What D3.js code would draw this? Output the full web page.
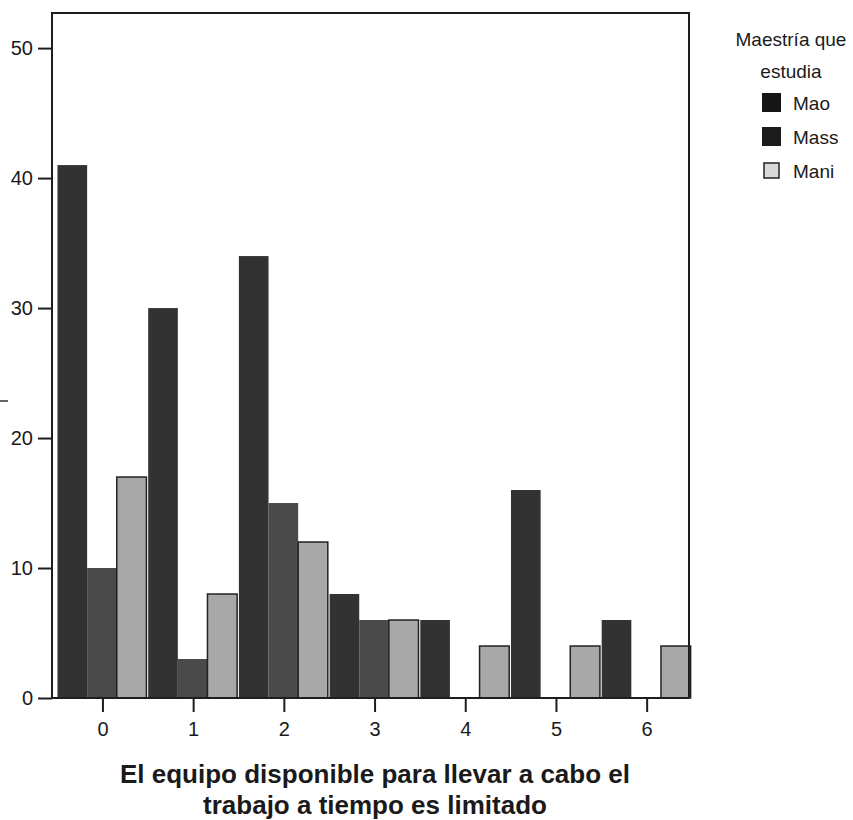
<!DOCTYPE html>
<html>
<head>
<meta charset="utf-8">
<script src="https://cdn.jsdelivr.net/npm/d3@7"></script>
<style>
  body { margin: 0; background: #fff; }
  text { font-family: "Liberation Sans", Arial, sans-serif; fill: #1a1a1a; }
</style>
</head>
<body>
<div id="chart"></div>
<script>
const categories = ["0", "1", "2", "3", "4", "5", "6"]
const seriesNames = ["Mao", "Mass", "Mani"]
const maoValues = [41, 30, 34, 8, 6, 16, 6]
const massValues = [10, 3, 15, 6, 0, 0, 0]
const maniValues = [17, 8, 12, 6, 4, 4, 4]
const yTicks = [0, 10, 20, 30, 40, 50]
const legendTitle = ["Maestría que", "estudia"]
const xTitle = ["El equipo disponible para llevar a cabo el", "trabajo a tiempo es limitado"]

const colors = { Mao: "#323232", Mass: "#4a4a4a", Mani: "#a8a8a8" }
const legendColors = { Mao: "#161616", Mass: "#1c1c1c", Mani: "#d8d8d8" }

const W = 853, H = 820
const PLOT = { LEFT: 52, TOP: 13, RIGHT: 689, BOTTOM: 698 }

const svg = d3.select("#chart")
              .append("svg")
              .attr("width", W)
              .attr("height", H)

const rows = categories.map((c, i) => ({
  cat: c,
  values: [
    { key: "Mao", value: maoValues[i] },
    { key: "Mass", value: massValues[i] },
    { key: "Mani", value: maniValues[i] },
  ]
}))

const x0 = d3.scaleBand()
             .domain(categories)
             .range([57.6, 692.5])
const x1 = d3.scaleBand()
             .domain(seriesNames)
             .range([0, x0.bandwidth()])
             .paddingOuter(0.03)
const y = d3.scaleLinear()
            .domain([0, 52.7])
            .range([PLOT.BOTTOM, PLOT.TOP])

// bars
const groups = svg.append("g")
                  .selectAll("g")
                  .data(rows)
                  .join("g")
                  .attr("transform", d => `translate(${x0(d.cat) - 1}, 0)`)

groups.selectAll("rect")
      .data(d => d.values)
      .join("rect")
      .attr("x", d => x1(d.key))
      .attr("y", d => y(d.value))
      .attr("width", x1.bandwidth())
      .attr("height", d => y(0) - y(d.value))
      .attr("fill", d => colors[d.key])
      .attr("stroke", d => d.key === "Mani" ? "#222" : "none")
      .attr("stroke-width", 1.5)

// frame
svg.append("path")
   .attr("d", `M${PLOT.LEFT},${PLOT.BOTTOM}V${PLOT.TOP}H${PLOT.RIGHT}V${PLOT.BOTTOM}`)
   .attr("fill", "none")
   .attr("stroke", "#1e1e1e")
   .attr("stroke-width", 2)

// y axis
const yAxis = svg.append("g")
                 .attr("transform", `translate(${PLOT.LEFT}, 0)`)
                 .call(d3.axisLeft(y).tickValues(yTicks).tickSize(14).tickPadding(5).tickFormat(d3.format("d")))
yAxis.select(".domain").remove()
yAxis.selectAll("line").attr("stroke", "#1e1e1e").attr("stroke-width", 2)
yAxis.selectAll("text")
     .attr("font-size", 20)
     .attr("font-family", "Liberation Sans, Arial, sans-serif")
     .attr("fill", "#1a1a1a")

// x axis
const xAxis = svg.append("g")
                 .attr("transform", `translate(0, ${PLOT.BOTTOM})`)
                 .call(d3.axisBottom(x0).tickSize(14).tickPadding(10).tickSizeOuter(0))
xAxis.select(".domain")
     .attr("d", `M${PLOT.LEFT},0H${PLOT.RIGHT}`)
     .attr("stroke", "#1e1e1e")
     .attr("stroke-width", 2)
xAxis.selectAll("line").attr("stroke", "#1e1e1e").attr("stroke-width", 2)
xAxis.selectAll("text")
     .attr("font-size", 20)
     .attr("font-family", "Liberation Sans, Arial, sans-serif")
     .attr("fill", "#1a1a1a")

// x title
svg.append("text")
   .attr("x", 375)
   .attr("y", 783)
   .attr("text-anchor", "middle")
   .attr("font-size", 26)
   .attr("font-weight", "bold")
   .selectAll("tspan")
   .data(xTitle)
   .join("tspan")
   .attr("x", 375)
   .attr("dy", (d, i) => i === 0 ? 0 : 31)
   .text(d => d)

// stray axis-title fragment at the left edge
svg.append("line")
   .attr("x1", 0).attr("x2", 8)
   .attr("y1", 401).attr("y2", 401)
   .attr("stroke", "#333")
   .attr("stroke-width", 1.5)

// legend
const legend = svg.append("g")
legend.append("text")
      .attr("text-anchor", "middle")
      .attr("font-size", 19)
      .selectAll("tspan")
      .data(legendTitle)
      .join("tspan")
      .attr("x", 791)
      .attr("y", (d, i) => 46 + i * 32)
      .text(d => d)

const items = legend.selectAll("g.item")
                    .data(seriesNames)
                    .join("g")
                    .attr("class", "item")
                    .attr("transform", (d, i) => `translate(762, ${93 + i * 34})`)

items.append("rect")
     .attr("x", d => d === "Mani" ? 2 : 0)
     .attr("y", d => d === "Mani" ? 2 : 0)
     .attr("width", d => d === "Mani" ? 15 : 19)
     .attr("height", d => d === "Mani" ? 15 : 19)
     .attr("fill", d => legendColors[d])
     .attr("stroke", d => d === "Mani" ? "#222" : "none")
     .attr("stroke-width", 1.5)

items.append("text")
     .attr("x", 31)
     .attr("y", 17)
     .attr("font-size", 19)
     .text(d => d)
</script>
</body>
</html>
